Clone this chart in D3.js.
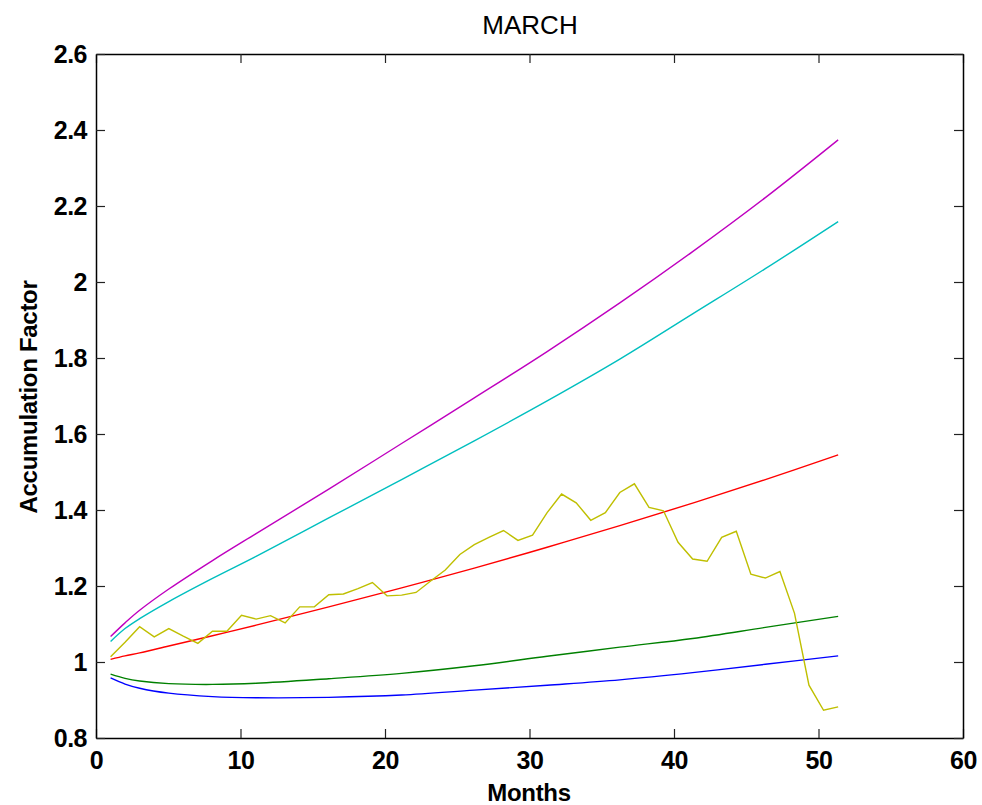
<!DOCTYPE html>
<html>
<head>
<meta charset="utf-8">
<script src="https://cdn.jsdelivr.net/npm/d3@7"></script>
<style>
  html, body { margin: 0; padding: 0; background: #fff; }
  svg { display: block; font-family: "Liberation Sans", Arial, sans-serif; }
</style>
</head>
<body>
<svg id="chart" width="982" height="805"></svg>
<script>
// ---------- data ----------
const title = "MARCH";
const xLabel = "Months";
const yLabel = "Accumulation Factor";

const xTicks = [0, 10, 20, 30, 40, 50, 60];
const yTicks = [0.8, 1.0, 1.2, 1.4, 1.6, 1.8, 2.0, 2.2, 2.4, 2.6];
const yTickLabels = ["0.8", "1", "1.2", "1.4", "1.6", "1.8", "2", "2.2", "2.4", "2.6"];

// monthly observed series (yellow)
const months = [1.01, 2.01, 3.02, 4.03, 5.04, 6.04, 7.05, 8.06, 9.06, 10.07,
  11.08, 12.08, 13.09, 14.10, 15.11, 16.11, 17.12, 18.13, 19.13, 20.14,
  21.15, 22.15, 23.16, 24.17, 25.18, 26.18, 27.19, 28.20, 29.20, 30.21,
  31.22, 32.22, 33.23, 34.24, 35.25, 36.25, 37.26, 38.27, 39.27, 40.28,
  41.29, 42.29, 43.30, 44.31, 45.32, 46.32, 47.33, 48.34, 49.34, 50.35, 51.36];
const observed = [1.014, 1.052, 1.093, 1.066, 1.088, 1.068, 1.049, 1.081, 1.081, 1.123,
  1.113, 1.122, 1.103, 1.145, 1.145, 1.177, 1.179, 1.193, 1.209, 1.174,
  1.176, 1.183, 1.213, 1.242, 1.283, 1.309, 1.328, 1.346, 1.320, 1.334,
  1.393, 1.442, 1.419, 1.373, 1.393, 1.446, 1.469, 1.407, 1.398, 1.315,
  1.271, 1.265, 1.328, 1.344, 1.231, 1.221, 1.238, 1.128, 0.939, 0.873, 0.882];

// smooth curves, read at these months
const curveMonths = [1.01, 2.01, 3.02, 5.04, 8.06, 11.08, 16.11, 21.15, 26.18, 31.22, 36.25, 41.29, 46.32, 51.36];
const blueSeries    = [0.958, 0.942, 0.931, 0.918, 0.909, 0.906, 0.907, 0.913, 0.926, 0.939, 0.953, 0.972, 0.994, 1.016];
const greenSeries   = [0.968, 0.957, 0.950, 0.943, 0.941, 0.944, 0.956, 0.970, 0.990, 1.015, 1.039, 1.062, 1.091, 1.120];
const redSeries     = [1.007, 1.016, 1.024, 1.042, 1.069, 1.097, 1.145, 1.195, 1.247, 1.302, 1.359, 1.418, 1.480, 1.545];
const cyanSeries    = [1.054, 1.088, 1.114, 1.159, 1.220, 1.278, 1.379, 1.480, 1.582, 1.687, 1.797, 1.916, 2.035, 2.159];
const magentaSeries = [1.067, 1.103, 1.136, 1.192, 1.267, 1.338, 1.455, 1.575, 1.695, 1.817, 1.945, 2.080, 2.222, 2.374];

const seriesColors = {
  blue: "#0000ff", green: "#008000", red: "#ff0000",
  cyan: "#00bfbf", magenta: "#bf00bf", yellow: "#bfbf00"
};

// ---------- layout ----------
const svg = d3.select("#chart");
const L = 96, T = 54, R = 963, B = 738;

const x = d3.scaleLinear().domain([0, 60]).range([L, R]);
const y = d3.scaleLinear().domain([0.8, 2.6]).range([B, T]);

const plot = svg.append("g");

const lineGen = (xs) => d3.line()
  .x((d, i) => x(xs[i]))
  .y(d => y(d));

const smooth = [
  [blueSeries, seriesColors.blue],
  [greenSeries, seriesColors.green],
  [redSeries, seriesColors.red],
  [cyanSeries, seriesColors.cyan],
  [magentaSeries, seriesColors.magenta]
];
smooth.forEach(([vals, col]) => {
  plot.append("path")
    .datum(vals)
    .attr("fill", "none")
    .attr("stroke", col)
    .attr("stroke-width", 1.4)
    .attr("d", lineGen(curveMonths).curve(d3.curveCatmullRom.alpha(0.5)));
});

plot.append("path")
  .datum(observed)
  .attr("fill", "none")
  .attr("stroke", seriesColors.yellow)
  .attr("stroke-width", 1.4)
  .attr("d", lineGen(months));

// ---------- axes ----------
const tickLen = 9;
function styleAxis(g) {
  g.selectAll(".domain").attr("stroke", "#000").attr("stroke-width", 1.5);
  g.selectAll(".tick line").attr("stroke", "#222").attr("stroke-width", 1.2);
  g.selectAll("text").attr("fill", "#000")
    .style("font-size", "25px").style("font-weight", "bold")
    .style("letter-spacing", "-0.5px")
    .style("font-family", "'Liberation Sans', Arial, sans-serif");
}

const xAxisB = d3.axisBottom(x).tickValues(xTicks).tickSizeInner(-tickLen).tickSizeOuter(0)
  .tickPadding(13).tickFormat(d3.format("d"));
svg.append("g").attr("transform", `translate(0,${B})`).call(xAxisB).call(styleAxis);

const xAxisT = d3.axisTop(x).tickValues(xTicks).tickSizeInner(-tickLen).tickSizeOuter(0).tickFormat("");
svg.append("g").attr("transform", `translate(0,${T})`).call(xAxisT).call(styleAxis);

const yAxisL = d3.axisLeft(y).tickValues(yTicks).tickSizeInner(-tickLen).tickSizeOuter(0)
  .tickPadding(9).tickFormat((d, i) => yTickLabels[i]);
svg.append("g").attr("transform", `translate(${L},0)`).call(yAxisL).call(styleAxis);

const yAxisR = d3.axisRight(y).tickValues(yTicks).tickSizeInner(-tickLen).tickSizeOuter(0).tickFormat("");
svg.append("g").attr("transform", `translate(${R},0)`).call(yAxisR).call(styleAxis);

// ---------- labels ----------
svg.append("text")
  .attr("x", 530).attr("y", 34)
  .attr("text-anchor", "middle")
  .style("font-size", "26px")
  .text(title);

svg.append("text")
  .attr("x", 529).attr("y", 801)
  .attr("text-anchor", "middle")
  .style("font-size", "24px").style("font-weight", "bold")
  .style("letter-spacing", "-0.3px")
  .text(xLabel);

svg.append("text")
  .attr("transform", `translate(37,397) rotate(-90)`)
  .attr("text-anchor", "middle")
  .style("font-size", "24px").style("font-weight", "bold")
  .style("letter-spacing", "-0.3px")
  .text(yLabel);
</script>
</body>
</html>
